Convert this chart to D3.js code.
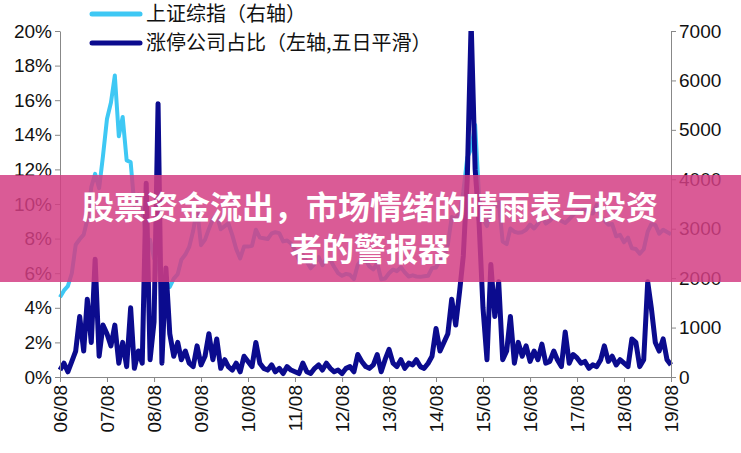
<!DOCTYPE html>
<html><head><meta charset="utf-8">
<script src="https://cdn.jsdelivr.net/npm/d3@7"></script>
<style>body{margin:0;background:#fff}svg{display:block}</style>
</head><body><svg id="c" width="741" height="453"></svg>
<script>
const startMonth = "2006-08";
const yearTicks = ["06/08","07/08","08/08","09/08","10/08","11/08","12/08","13/08","14/08","15/08","16/08","17/08","18/08","19/08"];
const leftTicks = [0,2,4,6,8,10,12,14,16,18,20];
const rightTicks = [0,1000,2000,3000,4000,5000,6000,7000];
const sseIndex = [
1612,1752,1837,2099,2675,
2786,2881,3183,3841,4109,3820,4471,5218,5552,6100,4871,5261,
4383,4348,3472,3693,3433,2736,2775,2397,2293,1729,1871,1821,
1991,2082,2373,2477,2632,2959,3412,2667,2779,2996,3195,3277,
2989,3051,3109,2870,2592,2398,2638,2638,2656,2979,2820,2808,
2791,2905,2928,2911,2743,2762,2701,2568,2359,2468,2333,2199,
2292,2428,2262,2397,2373,2225,2103,2047,2086,2069,1980,2269,
2385,2366,2237,2178,2301,1979,1994,2098,2175,2141,2220,2116,
2033,2056,2033,2026,2039,2048,2202,2217,2364,2420,2683,3235,
3210,3310,3748,4441,4612,5100,3664,3206,3053,3383,3445,3539,
2738,2688,3004,2938,2917,2930,2979,3085,3005,3100,3250,3104,
3159,3242,3223,3155,3117,3192,3273,3361,3349,3393,3317,3307,
3481,3259,3169,3082,3095,2847,2876,2725,2821,2603,2588,2494,
2585,2941,3091,3078,2899,2979,2933,2886];
const limitUpPct = [
0.4,0.8,0.3,0.9,1.5,
3.5,1.5,4.5,2.0,6.8,1.2,3.0,2.5,1.8,3.0,0.8,2.0,
0.6,4.0,0.5,1.5,0.8,11.2,1.0,3.2,15.8,0.8,6.3,2.5,
1.2,2.0,1.0,1.5,0.8,0.6,1.8,0.7,1.2,2.5,1.0,2.2,
0.5,1.0,0.6,0.4,0.8,0.3,1.2,0.9,0.6,2.0,0.8,0.5,
0.4,0.7,0.3,0.5,0.2,0.6,0.4,0.3,0.2,0.8,0.3,0.2,
0.5,0.7,0.4,0.8,0.5,0.3,0.4,0.2,0.5,0.6,0.3,1.3,
0.9,0.6,0.5,0.7,1.3,0.3,1.0,1.6,0.8,0.6,1.0,0.5,
0.8,0.7,1.0,0.6,0.5,0.8,1.2,2.8,1.5,2.0,2.5,4.5,
3.0,5.0,7.0,11.5,20.5,12.0,9.0,4.0,1.0,6.5,3.5,5.5,
1.0,1.5,3.5,0.8,2.0,1.2,1.8,0.9,1.5,1.0,1.9,0.8,
0.9,1.5,1.0,0.6,2.6,0.8,1.3,1.1,0.8,0.9,0.5,0.7,
0.6,1.0,1.8,0.9,1.2,0.7,1.0,0.8,0.6,2.2,2.0,0.6,
1.0,5.5,4.0,2.0,1.5,2.2,1.0,0.7];
const legendLabels = ["上证综指（右轴）","涨停公司占比（左轴,五日平滑）"];
const title = ["股票资金流出，市场情绪的晴雨表与投资","者的警报器"];

const svg = d3.select("#c");
const parse = d3.timeParse("%Y-%m");
const t0 = parse(startMonth);
const months = d3.range(sseIndex.length).map(i => d3.timeMonth.offset(t0, i));
const L = 60, R = 671, T = 31, B = 377;
const x = d3.scaleTime().domain([t0, months[months.length-1]]).range([L, R]);
const yL = d3.scaleLinear().domain([0,20]).range([B,T]);
const yR = d3.scaleLinear().domain([0,7000]).range([B,T]);
const font = "Liberation Sans, Arial, sans-serif";

svg.append("clipPath").attr("id","clip").append("rect").attr("x",L-5).attr("y",T).attr("width",R-L+10).attr("height",B-T+3);

const lineR = d3.line().x((d,i)=>x(months[i])).y(d=>yR(d));
const lineL = d3.line().x((d,i)=>x(months[i])).y(d=>yL(d));
const g = svg.append("g").attr("clip-path","url(#clip)");
g.append("path").attr("d",lineR(sseIndex)).attr("fill","none").attr("stroke","#3ec8f4").attr("stroke-width",4).attr("stroke-linejoin","round");
g.append("path").attr("d",lineL(limitUpPct)).attr("fill","none").attr("stroke","#0b0b8e").attr("stroke-width",5).attr("stroke-linejoin","round");

const ax = (sel)=>{sel.selectAll("text").attr("font-family",font).attr("font-size",19).attr("fill","#111");sel.selectAll("line,path").attr("stroke","#888");};
svg.append("g").attr("transform",`translate(${L},0)`).call(d3.axisLeft(yL).tickValues(leftTicks).tickFormat(d=>d+"%").tickSize(5).tickSizeOuter(0)).call(ax);
svg.append("g").attr("transform",`translate(${R},0)`).call(d3.axisRight(yR).tickValues(rightTicks).tickFormat(d3.format("d")).tickSize(5).tickSizeOuter(0)).call(ax);
const xTickDates = yearTicks.map(s => d3.timeParse("%y/%m")(s));
const xa = svg.append("g").attr("transform",`translate(0,${B})`).call(d3.axisBottom(x).tickValues(xTickDates).tickFormat(d3.timeFormat("%y/%m")).tickSize(5).tickSizeOuter(0)).call(ax);
xa.selectAll("text").attr("transform","rotate(-90)").attr("text-anchor","end").attr("x",-8).attr("y",0).attr("dy","0.35em");

const lg = svg.append("g");
legendLabels.forEach((t,i)=>{
  const yy = 14 + i*29;
  lg.append("line").attr("x1",92).attr("x2",140).attr("y1",yy).attr("y2",yy).attr("stroke",i?"#0b0b8e":"#3ec8f4").attr("stroke-width",5).attr("stroke-linecap","round");
  lg.append("text").attr("x",146).attr("y",yy).attr("dy","0.35em").attr("font-family","Noto Sans CJK SC").attr("font-size",20).attr("fill","#111").text(t);
});

svg.append("rect").attr("x",0).attr("y",175).attr("width",741).attr("height",107).attr("fill","rgba(212,62,132,0.85)");
title.forEach((t,i)=>{
  svg.append("text").attr("x",370).attr("y",208+i*42).attr("dy","0.35em").attr("text-anchor","middle").attr("font-family","Noto Sans CJK SC").attr("font-weight","bold").attr("font-size",32).attr("fill","#fff").text(t);
});
</script></body></html>
